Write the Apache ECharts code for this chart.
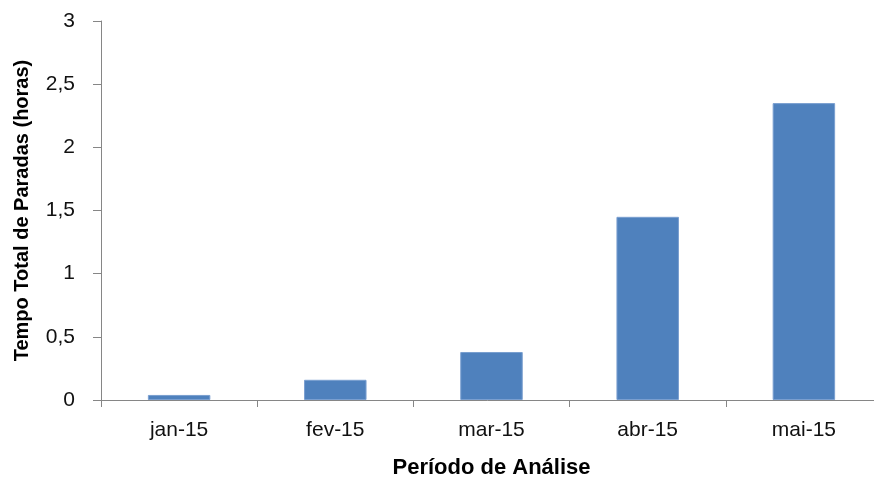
<!DOCTYPE html>
<html>
<head>
<meta charset="utf-8">
<script src="https://cdn.jsdelivr.net/npm/echarts@6/dist/echarts.min.js"></script>
<style>
  html, body { margin: 0; padding: 0; background: #fff; }
  #main { width: 874px; height: 477px; }
</style>
</head>
<body>
<div id="main"></div>
<script>
var categories = ['jan-15', 'fev-15', 'mar-15', 'abr-15', 'mai-15'];
var paradas = [0.04, 0.16, 0.38, 1.45, 2.35];
var yTicks = [0, 0.5, 1, 1.5, 2, 2.5, 3];

var font = 'Liberation Sans';
var chart = echarts.init(document.getElementById('main'));
chart.setOption({
  animation: false,
  grid: { left: 101, right: -8, top: 21, bottom: 77, outerBoundsMode: 'none', containLabel: false },
  xAxis: {
    type: 'category',
    data: categories,
    name: 'Período de Análise',
    nameLocation: 'middle',
    nameGap: 57,
    nameTextStyle: { fontFamily: font, fontSize: 22, fontWeight: 'bold', color: '#000' },
    axisLine: { lineStyle: { color: '#868686', width: 1 } },
    axisTick: { show: true, length: 7, lineStyle: { color: '#868686' } },
    axisLabel: { fontFamily: font, fontSize: 21, color: '#111', margin: 20 }
  },
  yAxis: {
    type: 'value',
    min: yTicks[0],
    max: yTicks[yTicks.length - 1],
    interval: 0.5,
    name: 'Tempo Total de Paradas (horas)',
    nameLocation: 'middle',
    nameGap: 69,
    nameTextStyle: { fontFamily: font, fontSize: 20, fontWeight: 'bold', color: '#000' },
    splitLine: { show: false },
    axisLine: { show: true, lineStyle: { color: '#868686', width: 1 } },
    axisTick: { show: true, length: 8, lineStyle: { color: '#868686' } },
    axisLabel: {
      fontFamily: font, fontSize: 21, color: '#111', margin: 26,
      formatter: function (v) { return String(v).replace('.', ','); }
    }
  },
  series: [{
    type: 'bar',
    data: paradas,
    barWidth: '40%',
    itemStyle: { color: '#4F81BD', borderColor: '#7a9fd0', borderWidth: 1 }
  }]
});
</script>
</body>
</html>
